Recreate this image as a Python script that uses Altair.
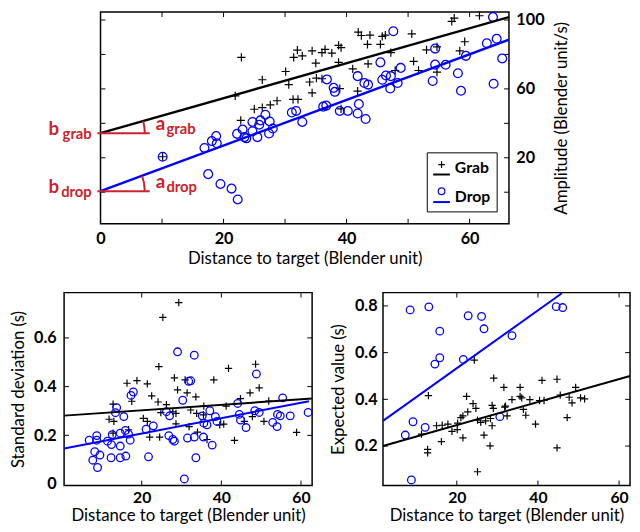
import math
import altair as alt
import pandas as pd

FONT = "Lato"
RED = "#cc2229"
BLUE = "#0000ff"
BLACK = "#000000"
PLUS = "M-1,0L1,0M0,-1L0,1"

# ---------------- Top panel: amplitude ----------------
top_grab_x = [10.1, 21.9, 22.8, 22.9, 25.0, 26.3, 26.3, 27.6, 28.7, 30.1, 30.6, 31.3, 32.1, 31.4,
              32.0, 32.8, 34.4, 35.0, 34.0, 35.1, 36.0, 34.4, 36.0, 36.5, 37.6, 38.7, 39.1, 38.7,
              38.9, 39.1, 41.9, 42.4, 43.8, 45.8, 46.3, 43.4, 45.5, 47.2, 41.0, 43.5, 41.8, 47.9,
              50.6, 50.9, 51.7, 53.0, 54.7, 54.7, 57.1, 57.5, 61.6, 59.2, 58.4]
top_grab_y = [20.6, 56.0, 41.7, 78.3, 48.2, 65.3, 49.1, 50.7, 53.1, 70.1, 62.5, 53.9, 53.9, 78.3,
              82.5, 79.2, 82.1, 75.0, 64.0, 66.3, 65.9, 57.7, 81.1, 83.0, 80.8, 85.3, 84.0, 75.4,
              60.2, 48.4, 93.0, 91.0, 91.2, 90.5, 91.2, 85.9, 85.9, 81.1, 71.6, 74.5, 58.7, 70.7,
              92.0, 76.0, 70.7, 82.7, 84.4, 69.7, 99.2, 101.1, 102.5, 87.4, 82.1]
top_drop_x = [10.1, 16.9, 18.1, 18.8, 18.9, 17.5, 19.5, 21.3, 22.3, 22.2, 23.1, 23.4, 23.7, 24.7,
              24.7, 25.5, 25.8, 26.0, 26.8, 27.5, 27.4, 28.0, 31.1, 31.8, 32.8, 36.8, 36.2, 36.7,
              37.9, 38.1, 38.9, 40.2, 41.8, 42.0, 41.8, 42.9, 43.5, 43.1, 45.5, 45.8, 46.4, 47.2,
              47.1, 48.3, 48.8, 47.6, 54.4, 54.4, 54.0, 56.1, 58.1, 58.6, 59.4, 62.8, 63.8, 64.4,
              65.3, 63.9]
top_drop_y = [20.6, 25.7, 29.7, 32.6, 28.4, 10.5, 4.8, 2.1, -4.2, 33.9, 36.4, 32.0, 31.3, 40.8,
              35.4, 32.0, 39.2, 41.7, 45.0, 41.1, 34.1, 37.0, 46.3, 47.2, 40.8, 65.5, 49.7, 50.3,
              60.6, 58.3, 47.2, 47.2, 67.4, 51.2, 45.7, 63.4, 62.5, 42.5, 75.4, 65.3, 67.8, 67.4,
              60.2, 63.4, 72.2, 93.5, 83.4, 74.1, 64.6, 74.0, 69.1, 58.9, 79.2, 86.5, 101.7, 89.1,
              77.7, 63.0]
top_grab_line_x = [0.0, 66.4]
top_grab_line_y = [34.3, 101.7]
top_drop_line_x = [0.0, 66.4]
top_drop_line_y = [0.6, 88.6]
top_xdom = [0.0, 66.4]
top_ydom = [-18.3, 104.6]
top_xticks = [0, 10, 20, 30, 40, 50, 60]
top_xlabels = [0, 20, 40, 60]
top_yticks = [0, 20, 40, 60, 80, 100]
top_ylabels = [20, 60, 100]

# ---------------- Bottom-left: standard deviation ----------------
sd_grab_x = [29.3, 25.3, 24.3, 16.3, 18.8, 21.4, 28.2, 30.9, 22.5, 17.5, 12.8, 24.1, 29.0, 26.2,
             24.8, 27.8, 28.6, 11.8, 13.0, 20.4, 21.4, 12.8, 16.7, 22.0, 24.5, 28.6, 31.4, 33.6,
             38.1, 41.8, 48.6, 49.5, 47.2, 44.8, 51.9, 41.2, 35.6, 32.3, 33.8, 35.5, 40.6, 39.6,
             45.8, 47.8, 50.7, 31.9, 34.0, 36.4, 43.3, 58.9]
sd_grab_y = [0.745, 0.684, 0.482, 0.414, 0.425, 0.411, 0.436, 0.428, 0.362, 0.340, 0.328, 0.337,
             0.387, 0.326, 0.293, 0.297, 0.290, 0.266, 0.257, 0.270, 0.257, 0.209, 0.223, 0.193,
             0.193, 0.247, 0.374, 0.358, 0.428, 0.475, 0.492, 0.395, 0.374, 0.351, 0.341, 0.320,
             0.320, 0.304, 0.290, 0.284, 0.246, 0.243, 0.257, 0.277, 0.257, 0.236, 0.213, 0.183,
             0.179, 0.212]
sd_drop_x = [29.0, 31.8, 17.9, 17.3, 30.3, 13.7, 13.4, 15.5, 26.2, 27.0, 22.9, 21.1, 15.9, 14.6,
             16.7, 17.1, 6.8, 8.7, 8.7, 11.4, 12.6, 12.4, 14.6, 8.2, 9.5, 7.7, 8.9, 12.3, 14.6,
             16.0, 21.7, 26.8, 27.8, 28.2, 30.7, 31.5, 33.2, 48.8, 55.4, 44.1, 37.1, 48.4, 49.5,
             35.2, 38.5, 38.9, 44.5, 44.8, 35.6, 36.4, 54.1, 54.8, 57.3, 61.8, 52.9, 54.0, 46.2,
             33.2, 35.5, 37.7, 33.6, 32.3]
sd_drop_y = [0.543, 0.422, 0.378, 0.364, 0.344, 0.314, 0.293, 0.277, 0.297, 0.280, 0.239, 0.225,
             0.220, 0.209, 0.205, 0.180, 0.180, 0.199, 0.180, 0.176, 0.203, 0.162, 0.156, 0.133,
             0.119, 0.098, 0.068, 0.108, 0.108, 0.115, 0.112, 0.199, 0.183, 0.176, 0.021, 0.189,
             0.529, 0.452, 0.354, 0.331, 0.301, 0.301, 0.294, 0.280, 0.277, 0.257, 0.286, 0.263,
             0.250, 0.243, 0.286, 0.280, 0.280, 0.294, 0.253, 0.236, 0.232, 0.193, 0.193, 0.160,
             0.108, 0.424]
sd_grab_line_x = [0.5, 62.8]
sd_grab_line_y = [0.281, 0.351]
sd_drop_line_x = [0.5, 62.0]
sd_drop_line_y = [0.146, 0.340]
sd_xdom = [0.5, 62.8]
sd_ydom = [-0.006, 0.786]
sd_xticks = [20, 40, 60]
sd_yticks = [0.2, 0.4, 0.6]
sd_ylabels = [0, 0.2, 0.4, 0.6]

# ---------------- Bottom-right: expected value ----------------
ev_grab_x = [24.3, 29.1, 31.6, 13.0, 22.4, 24.0, 24.7, 22.7, 21.5, 21.0, 28.7, 29.0, 28.3, 31.8,
             25.1, 25.9, 27.1, 28.7, 26.7, 28.2, 25.1, 20.2, 20.1, 18.8, 17.8, 16.4, 15.0, 11.3,
             16.2, 21.5, 12.8, 12.8, 35.6, 41.0, 44.7, 49.3, 33.6, 35.6, 36.0, 38.0, 40.4, 41.5,
             45.5, 47.7, 48.4, 50.5, 51.5, 32.0, 32.4, 36.4, 37.0, 39.4, 47.2, 44.7]
ev_grab_y = [0.568, 0.491, 0.451, 0.416, 0.413, 0.382, 0.361, 0.346, 0.329, 0.322, 0.374, 0.361,
             0.318, 0.367, 0.311, 0.301, 0.308, 0.287, 0.247, 0.201, 0.090, 0.298, 0.270, 0.263,
             0.294, 0.289, 0.287, 0.251, 0.219, 0.235, 0.186, 0.171, 0.451, 0.481, 0.486, 0.451,
             0.399, 0.413, 0.406, 0.399, 0.395, 0.395, 0.418, 0.409, 0.385, 0.406, 0.402, 0.371,
             0.329, 0.357, 0.332, 0.294, 0.322, 0.192]
ev_drop_x = [8.5, 13.1, 22.8, 26.1, 26.7, 15.8, 15.8, 14.6, 21.6, 9.2, 12.2, 7.3, 8.8, 30.6,
             44.5, 46.1, 33.6]
ev_drop_y = [0.783, 0.796, 0.758, 0.755, 0.702, 0.692, 0.578, 0.551, 0.571, 0.304, 0.280, 0.247,
             0.055, 0.326, 0.797, 0.793, 0.673]
ev_grab_line_x = [1.8, 62.7]
ev_grab_line_y = [0.200, 0.500]
ev_drop_line_x = [1.8, 45.9]
ev_drop_line_y = [0.308, 0.854]
ev_xdom = [1.8, 62.7]
ev_ydom = [0.031, 0.857]
ev_xticks = [20, 40, 60]
ev_yticks = [0.2, 0.4, 0.6, 0.8]
ev_ylabels = [0.2, 0.4, 0.6, 0.8]

XTITLE = "Distance to target (Blender unit)"


def xy(xs, ys):
    return pd.DataFrame({"x": xs, "y": ys})


def panel(gx, gy, dx, dy, glx, gly, dlx, dly, xdom, ydom, w, h, xticks, yticks,
          xaxis, yaxis, csize, psize, lw):
    xs = alt.Scale(domain=xdom, nice=False, zero=False)
    ys = alt.Scale(domain=ydom, nice=False, zero=False)
    X = alt.X("x:Q", scale=xs, axis=xaxis)
    Y = alt.Y("y:Q", scale=ys, axis=yaxis)
    xt = pd.DataFrame({"x": xticks})
    yt = pd.DataFrame({"y": yticks})
    layers = [
        alt.Chart(xt).mark_rule(color=BLACK, strokeWidth=1).encode(x=X, y=alt.value(h), y2=alt.value(h - 5)),
        alt.Chart(xt).mark_rule(color=BLACK, strokeWidth=1).encode(x=X, y=alt.value(0), y2=alt.value(5)),
        alt.Chart(yt).mark_rule(color=BLACK, strokeWidth=1).encode(y=Y, x=alt.value(0), x2=alt.value(5)),
        alt.Chart(yt).mark_rule(color=BLACK, strokeWidth=1).encode(y=Y, x=alt.value(w), x2=alt.value(w - 5)),
        alt.Chart(xy(gx, gy)).mark_point(shape=PLUS, size=psize, color=BLACK, strokeWidth=1.2,
                                         filled=False, opacity=1).encode(x=X, y=Y),
        alt.Chart(xy(dx, dy)).mark_point(shape="circle", size=csize, color=BLUE, strokeWidth=1.3,
                                         filled=False, opacity=1).encode(x=X, y=Y),
        alt.Chart(xy(glx, gly)).mark_line(color=BLACK, strokeWidth=lw, clip=True).encode(x=X, y=Y),
        alt.Chart(xy(dlx, dly)).mark_line(color=BLUE, strokeWidth=lw, clip=True).encode(x=X, y=Y),
    ]
    return layers, X, Y, xs


# ---- Top panel ----
TW, TH = 415, 215
top_xaxis = alt.Axis(values=top_xlabels, title=XTITLE, format="d", labelPadding=7, titlePadding=4,
                     labelFlush=False)
top_layers, TX, TY, TXS = panel(
    top_grab_x, top_grab_y, top_drop_x, top_drop_y,
    top_grab_line_x, top_grab_line_y, top_drop_line_x, top_drop_line_y,
    top_xdom, top_ydom, TW, TH, top_xticks, top_yticks,
    top_xaxis,
    alt.Axis(orient="right", values=top_ylabels, format="d", title="Amplitude (Blender unit/s)",
             titleAngle=270, labelPadding=7, titlePadding=27),
    80, 70, 2.5)

px_per_x = TW / (top_xdom[1] - top_xdom[0])
px_per_y = TH / (top_ydom[1] - top_ydom[0])


def annot(b, slope, name):
    phi = math.atan(slope * px_per_y / px_per_x)
    d = pd.DataFrame({"x": [0.0], "y": [b], "x0": [-0.5], "x1": [8.0]})
    base = alt.Chart(d)
    items = [
        base.mark_rule(color=RED, strokeWidth=2).encode(x=alt.X("x0:Q", scale=TXS, axis=top_xaxis),
                                                        x2="x1:Q", y=TY),
        base.mark_arc(color=RED, radius=44, radius2=46, theta=math.pi / 2 - phi,
                      theta2=math.pi / 2).encode(x=TX, y=TY),
        base.mark_text(text="b", font=FONT, fontWeight="bold", fontSize=19, color=RED,
                       align="right", baseline="alphabetic", dx=-42, dy=2).encode(x=TX, y=TY),
        base.mark_text(text=name, font=FONT, fontWeight="bold", fontSize=15, color=RED,
                       align="right", baseline="alphabetic", dx=-9, dy=6).encode(x=TX, y=TY),
        base.mark_text(text="a", font=FONT, fontWeight="bold", fontSize=19, color=RED,
                       align="left", baseline="alphabetic", dx=56, dy=-3).encode(x=TX, y=TY),
        base.mark_text(text=name, font=FONT, fontWeight="bold", fontSize=15, color=RED,
                       align="left", baseline="alphabetic", dx=67, dy=1).encode(x=TX, y=TY),
    ]
    return items


g_slope = (top_grab_line_y[1] - top_grab_line_y[0]) / (top_grab_line_x[1] - top_grab_line_x[0])
d_slope = (top_drop_line_y[1] - top_drop_line_y[0]) / (top_drop_line_x[1] - top_drop_line_x[0])
ann_layers = annot(top_grab_line_y[0], g_slope, "grab") + annot(top_drop_line_y[0], d_slope, "drop")

# legend (drawn inside top panel)
one = pd.DataFrame({"k": [0]})
lg = alt.Chart(one)
legend_layers = [
    lg.mark_rect(fill="white", stroke=BLACK, strokeWidth=1).encode(
        x=alt.value(332), x2=alt.value(403), y=alt.value(143), y2=alt.value(203)),
    lg.mark_point(shape=PLUS, size=45, color=BLACK, strokeWidth=1.2, filled=False, opacity=1).encode(
        x=alt.value(346.5), y=alt.value(155)),
    lg.mark_rule(color=BLACK, strokeWidth=2).encode(x=alt.value(338), x2=alt.value(355), y=alt.value(165)),
    lg.mark_text(text="Grab", font=FONT, fontWeight="bold", fontSize=16, align="left",
                 baseline="middle", color=BLACK).encode(x=alt.value(360), y=alt.value(158)),
    lg.mark_point(shape="circle", size=45, color=BLUE, strokeWidth=1.2, filled=False, opacity=1).encode(
        x=alt.value(346.5), y=alt.value(182)),
    lg.mark_rule(color=BLUE, strokeWidth=2).encode(x=alt.value(338), x2=alt.value(355), y=alt.value(193)),
    lg.mark_text(text="Drop", font=FONT, fontWeight="bold", fontSize=16, align="left",
                 baseline="middle", color=BLACK).encode(x=alt.value(360), y=alt.value(188)),
]

top = alt.layer(*(top_layers + ann_layers + legend_layers)).properties(width=TW, height=TH)

# ---- Bottom-left ----
BW, BH = 252, 196
sd_layers, _, _, _ = panel(
    sd_grab_x, sd_grab_y, sd_drop_x, sd_drop_y,
    sd_grab_line_x, sd_grab_line_y, sd_drop_line_x, sd_drop_line_y,
    sd_xdom, sd_ydom, BW, BH, sd_xticks, sd_yticks,
    alt.Axis(values=sd_xticks, title=XTITLE, format="d", labelPadding=4.5, titlePadding=2,
             labelFlush=False, labelFontSize=16),
    alt.Axis(values=sd_ylabels, format="~g", title="Standard deviation (s)", labelPadding=8,
             titlePadding=6),
    60, 55, 2)
bl = alt.layer(*sd_layers).properties(width=BW, height=BH)

# ---- Bottom-right ----
ev_layers, _, _, _ = panel(
    ev_grab_x, ev_grab_y, ev_drop_x, ev_drop_y,
    ev_grab_line_x, ev_grab_line_y, ev_drop_line_x, ev_drop_line_y,
    ev_xdom, ev_ydom, 251, BH, ev_xticks, ev_yticks,
    alt.Axis(values=ev_xticks, title=XTITLE, format="d", labelPadding=4.5, titlePadding=2,
             labelFlush=False, labelFontSize=16),
    alt.Axis(values=ev_ylabels, format=".1f", title="Expected value (s)", labelPadding=6,
             titlePadding=7),
    60, 55, 2)
br = alt.layer(*ev_layers).properties(width=251, height=BH)

SPACER_W = 37
spacer = alt.Chart(one).mark_point(opacity=0, size=1).encode(
    x=alt.value(0), y=alt.value(0)
).properties(width=SPACER_W, height=20, view=alt.ViewBackground(stroke=None))

row1 = alt.hconcat(spacer, top, spacing=0, bounds="flush")
row2 = alt.hconcat(bl, br, spacing=72, bounds="flush")

chart = alt.vconcat(row1, row2, spacing=23).properties(
    padding={"left": 1, "top": -4, "right": 0, "bottom": 0}
).configure_axis(
    labelFont=FONT, labelFontWeight="bold", labelFontSize=16.5, labelColor=BLACK,
    titleFont=FONT, titleFontWeight="normal", titleFontSize=17, titleColor=BLACK,
    ticks=False, domain=False, grid=False
).configure_view(stroke=BLACK, strokeWidth=1.5)

chart.save("out.html", embed_options={"renderer": "svg", "actions": False})
